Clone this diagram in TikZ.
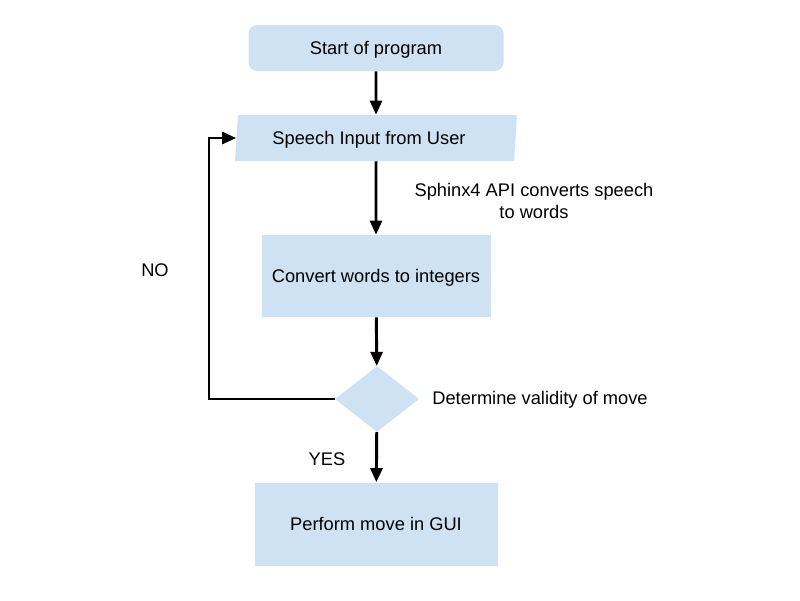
\documentclass[tikz,border=0pt]{standalone}
\usepackage{fontspec}
\setmainfont{Liberation Sans}
\usepackage{xcolor}
\usetikzlibrary{arrows.meta,shapes.geometric}

\definecolor{boxblue}{HTML}{CFE2F3}

\begin{document}
\begin{tikzpicture}[x=0.025cm,y=-0.025cm,font=\fontsize{13}{16}\selectfont,
  block/.style={fill=boxblue,inner sep=0pt,text height=0.92em,text depth=0.05em},
  flow/.style={line width=2.1pt,-{Triangle[length=10pt,width=8.5pt]}}]
\useasboundingbox (0,0) rectangle (800,600);
\node[block, rounded corners=6pt, minimum width=255*0.025cm, minimum height=46*0.025cm] (start) at (376,48) {Start of program};
  \node[block, trapezium, trapezium left angle=78, trapezium right angle=102, trapezium stretches body,
        minimum width=282*0.025cm, minimum height=46*0.025cm] (speech) at (376,138) {Speech Input from User\hspace*{0.35cm}};
  \node[block, minimum width=229*0.025cm, minimum height=82*0.025cm] (convert) at (376,276) {Convert words to integers};
  \node[block, diamond, minimum width=84*0.025cm, minimum height=66*0.025cm] (valid) at (377,399) {};
  \node[block, minimum width=243*0.025cm, minimum height=83*0.025cm] (perform) at (376,524) {Perform move in GUI};
  \coordinate (noturn) at (209,399);

  \node[align=center] (sphinx) at (534,201) {Sphinx4 API converts speech\\to words};
  \node (determine) at (540,400) {Determine validity of move};
  \node (no) at (155,270) {NO};
  \node (yes) at (327,459) {YES};

  \path[flow]
        (start) edge              node {} (speech)
        (speech) edge             node {} (convert)
        (convert) edge            node {} (valid)
        (valid) edge              node {} (perform);
  \draw[flow] (valid.west) -- (noturn) |- (speech.west);
    \end{tikzpicture}
\end{document}
